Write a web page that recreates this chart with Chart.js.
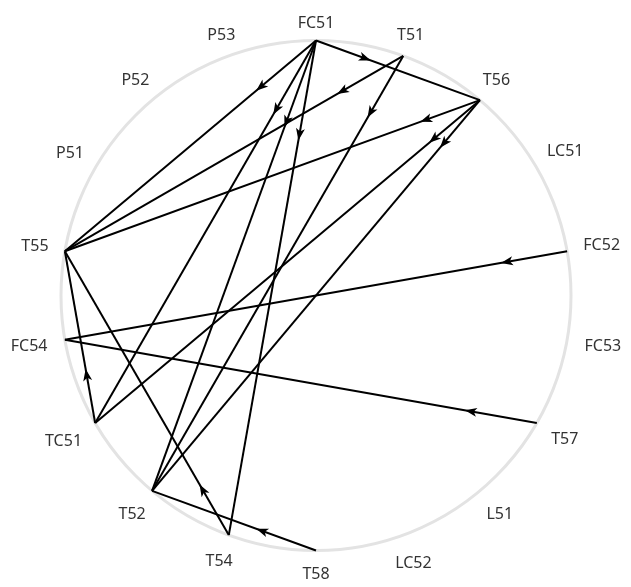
<!DOCTYPE html>
<html>
<head>
<meta charset="utf-8">
<script src="https://cdn.jsdelivr.net/npm/chart.js@4/dist/chart.umd.min.js"></script>
<style>
  html, body { margin: 0; padding: 0; background: #fff; }
  #wrap { width: 631px; height: 587px; }
</style>
</head>
<body>
<div id="wrap"><canvas id="graph"></canvas></div>
<script>
// Nodes, clockwise from the top of the ring
const nodes = ['FC51', 'T51', 'T56', 'LC51', 'FC52', 'FC53', 'T57', 'L51', 'LC52',
  'T58', 'T54', 'T52', 'TC51', 'FC54', 'T55', 'P51', 'P52', 'P53'];

// Directed links (source -> target) and where the arrow sits along each link
const edgeSource = ['FC51', 'FC51', 'FC51', 'FC51', 'FC51', 'T51', 'T51', 'T56', 'T56', 'T56', 'FC52', 'T57', 'TC51', 'T54', 'T58'];
const edgeTarget = ['T56', 'T55', 'TC51', 'T52', 'T54', 'T55', 'T52', 'T55', 'TC51', 'T52', 'FC54', 'FC54', 'T55', 'T55', 'T52'];
const arrowAt = [0.30, 0.22, 0.18, 0.18, 0.19, 0.18, 0.13, 0.13, 0.12, 0.11, 0.12, 0.14, 0.28, 0.16, 0.33];

// circular layout: unit circle, one slot per node
const step = 2 * Math.PI / nodes.length;
const pos = {};
nodes.forEach((n, i) => {
  const a = Math.PI / 2 - i * step;
  pos[n] = { x: Math.cos(a), y: Math.sin(a) };
});

const datasets = edgeSource.map((s, i) => ({
  type: 'scatter',
  data: [pos[s], pos[edgeTarget[i]]],
  showLine: true,
  borderColor: '#000',
  borderWidth: 2,
  pointRadius: 0,
  fill: false
}));
datasets.push({
  type: 'scatter',
  data: nodes.map(n => pos[n]),
  pointRadius: 0
});

const ringPlugin = {
  id: 'ring',
  beforeDatasetsDraw(chart) {
    const { ctx, scales: { x, y } } = chart;
    const cx = x.getPixelForValue(0), cy = y.getPixelForValue(0);
    const r = x.getPixelForValue(1) - cx;
    ctx.save();
    ctx.beginPath();
    ctx.arc(cx, cy, r, 0, Math.PI * 2);
    ctx.strokeStyle = '#e3e3e3';
    ctx.lineWidth = 3;
    ctx.stroke();
    ctx.restore();
  },
  afterDatasetsDraw(chart) {
    const { ctx, scales: { x, y } } = chart;
    ctx.save();
    // arrows
    ctx.fillStyle = '#000';
    edgeSource.forEach((s, i) => {
      const a = pos[s], b = pos[edgeTarget[i]];
      const x1 = x.getPixelForValue(a.x), y1 = y.getPixelForValue(a.y);
      const x2 = x.getPixelForValue(b.x), y2 = y.getPixelForValue(b.y);
      const t = arrowAt[i];
      const px = x1 + (x2 - x1) * t, py = y1 + (y2 - y1) * t;
      const ang = Math.atan2(y2 - y1, x2 - x1);
      ctx.save();
      ctx.translate(px, py);
      ctx.rotate(ang);
      ctx.beginPath();
      ctx.moveTo(6, 0);
      ctx.lineTo(-6, -4.5);
      ctx.lineTo(-3, 0);
      ctx.lineTo(-6, 4.5);
      ctx.closePath();
      ctx.fill();
      ctx.restore();
    });
    // labels
    const cx = x.getPixelForValue(0), cy = y.getPixelForValue(0);
    const r = x.getPixelForValue(1) - cx;
    ctx.font = '16px "Noto Sans", sans-serif';
    ctx.fillStyle = '#333';
    ctx.textAlign = 'center';
    ctx.textBaseline = 'middle';
    nodes.forEach(n => {
      const p = pos[n];
      const w = ctx.measureText(n).width;
      const d = r + 17 + (w / 2) * Math.abs(p.x) + (p.y < 0 ? -p.y * 7 : 0);
      ctx.fillText(n, cx + d * p.x, cy - d * p.y);
    });
    ctx.restore();
  }
};

new Chart(document.getElementById('graph'), {
  type: 'scatter',
  data: { datasets },
  options: {
    responsive: true,
    maintainAspectRatio: false,
    animation: false,
    layout: { padding: 0 },
    plugins: { legend: { display: false }, tooltip: { enabled: false } },
    scales: {
      x: { type: 'linear', display: false, min: -316 / 255, max: 315 / 255 },
      y: { type: 'linear', display: false, min: -291.5 / 255, max: 295.5 / 255 }
    }
  },
  plugins: [ringPlugin]
});
</script>
</body>
</html>
